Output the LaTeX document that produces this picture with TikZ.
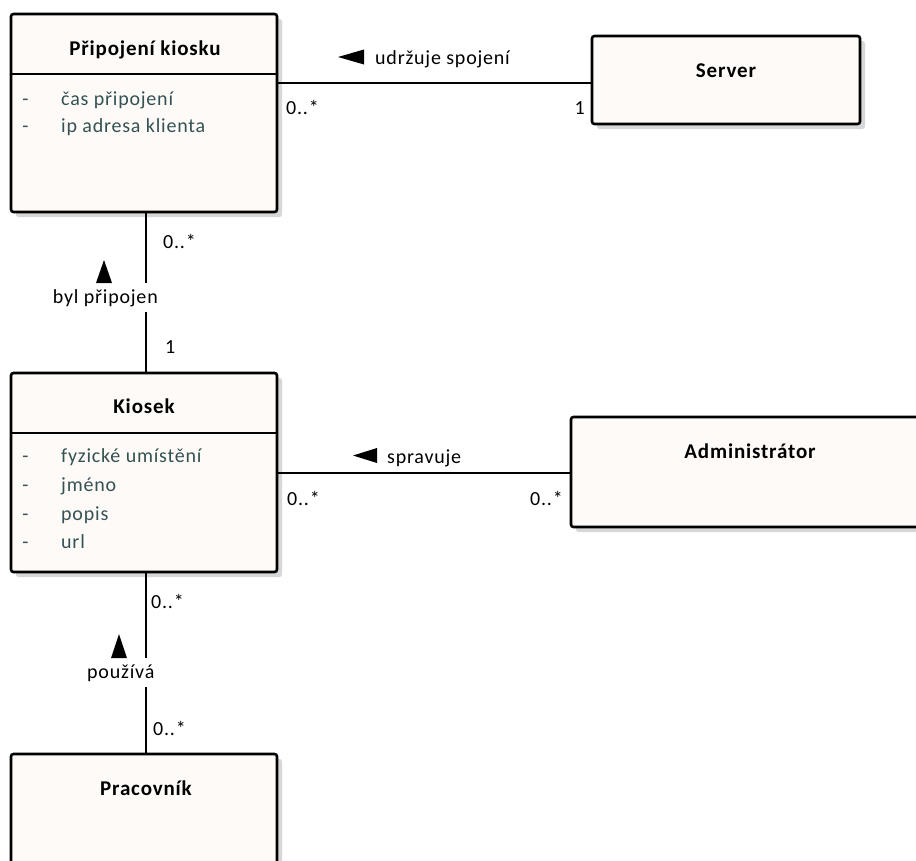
\documentclass[tikz,border=0pt]{standalone}
\usepackage{fontspec}
\setmainfont{Carlito}[LetterSpace=4]
\pgfdeclarelayer{bg}
\pgfsetlayers{bg,main}
\definecolor{boxfill}{RGB}{253,250,247}
\definecolor{attrc}{RGB}{52,82,84}
\definecolor{shadowc}{RGB}{215,215,215}
\tikzset{
  cls/.style={draw=black, line width=2.6pt, fill=boxfill, rounded corners=2.5pt,
    inner sep=0pt, outer sep=0pt, anchor=north west},
  shad/.style={fill=shadowc, rounded corners=2.5pt},
  divider/.style={line width=2.6pt},
  conn/.style={line width=1.8pt},
  txt/.style={font=\fontsize{20}{23}\selectfont, inner sep=0pt},
  title/.style={txt, font=\fontsize{21}{24}\selectfont\bfseries, anchor=base},
  attr/.style={txt, text=attrc, anchor=base west},
  dashm/.style={txt, text=attrc, anchor=base},
  mult/.style={txt, anchor=base west},
  lab/.style={txt, fill=white, inner xsep=1pt, inner ysep=6pt},
  tri/.style={fill=black}
}
\begin{document}
\begin{tikzpicture}[x=1pt,y=-1pt]
\clip (0,0) rectangle (916,860);
\begin{pgfonlayer}{bg}
\fill[white] (0,0) rectangle (916,860);
\end{pgfonlayer}

% classes
\node[cls, minimum width=266pt, minimum height=198pt] (pk) at (11,14) {};
\node[cls, minimum width=268pt, minimum height=88pt] (srv) at (592,36) {};
\node[cls, minimum width=266pt, minimum height=199pt] (ki) at (11,373) {};
\node[cls, minimum width=360pt, minimum height=110pt] (adm) at (571,417) {};
\node[cls, minimum width=266pt, minimum height=140pt] (pr) at (11,754) {};

% shadows
\begin{pgfonlayer}{bg}
\foreach \n in {pk,srv,ki,adm,pr}{
  \fill[shad] ([xshift=5pt,yshift=-5pt]\n.north west) rectangle ([xshift=5pt,yshift=-5pt]\n.south east);
}
\end{pgfonlayer}

% dividers
\draw[divider] (pk.west |- 0,74) -- (pk.east |- 0,74);
\draw[divider] (ki.west |- 0,433) -- (ki.east |- 0,433);

% titles
\node[title] (tpk) at (145,55) {Připojení kiosku};
\node[title] (tsrv) at (726,77) {Server};
\node[title] (tki) at (144,413) {Kiosek};
\node[title] (tadm) at (750,458) {Administrátor};
\node[title] (tpr) at (146,795) {Pracovník};

% attributes
\node[dashm] (d1) at (25.5,105) {-};
\node[attr] (a1) at (61,105) {čas připojení};
\node[dashm] (d2) at (25.5,132) {-};
\node[attr] (a2) at (61,132) {ip adresa klienta};

\node[dashm] (d3) at (25.5,462) {-};
\node[attr] (a3) at (61,462) {fyzické umístění};
\node[dashm] (d4) at (25.5,491) {-};
\node[attr] (a4) at (61,491) {jméno};
\node[dashm] (d5) at (25.5,520) {-};
\node[attr] (a5) at (61,520) {popis};
\node[dashm] (d6) at (25.5,548) {-};
\node[attr] (a6) at (61,548) {url};

% connectors
\draw[conn] (pk.east |- 0,83) -- (srv.west |- 0,83);
\draw[conn] (pk.south -| 146,0) -- (ki.north -| 146,0);
\draw[conn] (ki.east |- 0,473) -- (adm.west |- 0,473);
\draw[conn] (ki.south -| 146,0) -- (pr.north -| 146,0);

% association labels
\node[txt, anchor=base west] (l1) at (375,64) {udržuje spojení};
\fill[tri] (338,57) -- (364,49.5) -- (364,64.5) -- cycle;
\node[txt, anchor=base west] (l2) at (387,463) {spravuje};
\fill[tri] (353,455.5) -- (377,448) -- (377,463) -- cycle;
\node[lab, anchor=base east] (l3) at (159,303) {byl připojen};
\fill[tri] (104,260) -- (112,283) -- (96,283) -- cycle;
\node[lab, anchor=base west] (l4) at (86,678) {používá};
\fill[tri] (119,634) -- (127,658) -- (111,658) -- cycle;

% multiplicities
\node[mult] (m1) at (286,114) {0..*};
\node[mult, anchor=base east] (m2) at (585,114) {1};
\node[mult] (m3) at (163,248) {0..*};
\node[mult] (m4) at (165,353) {1};
\node[mult] (m5) at (287,505) {0..*};
\node[mult, anchor=base east] (m6) at (563,505) {0..*};
\node[mult] (m7) at (151,608) {0..*};
\node[mult] (m8) at (153,735) {0..*};
\end{tikzpicture}
\end{document}
